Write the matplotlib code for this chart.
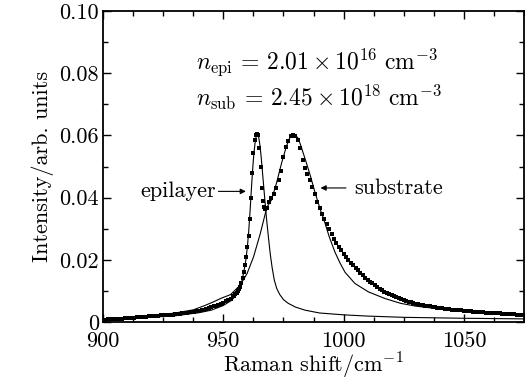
import numpy as np
import matplotlib
matplotlib.use("Agg")
import matplotlib.pyplot as plt
from matplotlib.ticker import MultipleLocator, FuncFormatter

plt.rcParams['font.family'] = 'serif'
plt.rcParams['font.serif'] = ['cmr10', 'DejaVu Serif']
plt.rcParams['mathtext.fontset'] = 'cm'
plt.rcParams['axes.unicode_minus'] = False

# ---- measured spectrum (squares) ----
seg1_int = [.0008, .0008, .0009, .0009, .0010, .0010, .0010, .0011, .0011, .0012,
            .0012, .0013, .0013, .0014, .0015, .0015, .0016, .0016, .0017, .0018,
            .0018, .0019, .0019, .0020, .0021, .0021, .0022, .0023, .0024, .0024,
            .0025, .0026, .0027, .0028, .0029, .0029, .0031, .0032, .0033, .0035,
            .0036, .0038, .0040, .0042, .0044, .0047, .0050, .0053, .0055, .0058,
            .0062, .0067, .0071, .0075, .0082]                       # 900..954
seg2_int = [.0085, .0089, .0093, .0099, .0105, .0112, .0125, .0142, .0162, .0184,
            .0210, .0240, .0278, .0330, .0400, .0480, .0545, .0585, .0600, .0605,
            .0600, .0560, .0500, .0430, .0390, .0370, .0362, .0365]   # 954.5..968
seg3_int = [.0385, .0398, .0413, .0432, .0455, .0485, .0530, .0563, .0582, .0597,
            .0602, .0597, .0585, .0560, .0520, .0495, .0475, .0455, .0435, .0410,
            .0385, .0365, .0348, .0332, .0315, .0298, .0282, .0268, .0255, .0242,
            .0230, .0218, .0208, .0198, .0190, .0182, .0175, .0166, .0158, .0150,
            .0143, .0136, .0130, .0124, .0118, .0112, .0107, .0102, .0098, .0094,
            .0090, .0086, .0082, .0079, .0076, .0073, .0070, .0067, .0065, .0063,
            .0061, .0059, .0057, .0055, .0054, .0052, .0051, .0050, .0048, .0047,
            .0046, .0045, .0044, .0043, .0042, .0041, .0040, .0039, .0038, .0037,
            .0037, .0036, .0035, .0034, .0034, .0033, .0033, .0032, .0031, .0031,
            .0030, .0030, .0029, .0029, .0028, .0028, .0028, .0027, .0027, .0026,
            .0026, .0025, .0025, .0024, .0024, .0023, .0023]           # 969..1075
seg1_x = np.arange(900, 954.5, 1.0)
seg2_x = np.arange(954.5, 968.25, 0.5)
seg3_x = np.arange(969, 1075.5, 1.0)
assert len(seg1_x) == len(seg1_int) and len(seg2_x) == len(seg2_int) and len(seg3_x) == len(seg3_int)
data_shift = np.concatenate([seg1_x, seg2_x, seg3_x])
data_int = np.array(seg1_int + seg2_int + seg3_int)

# ---- epilayer fit curve ----
epi_shift = [900, 915, 930, 940, 945, 950, 953.5, 955.5, 956.8, 957.7, 958.5, 959.3,
             960.0, 960.6, 961.2, 961.7, 962.2, 962.7, 963.2, 963.7, 964.2, 964.7,
             965.2, 965.7, 966.2, 966.7, 967.2, 967.7, 968.2, 968.8, 969.5, 970.3,
             971.2, 972.2, 973.5, 975, 977, 980, 984, 990, 1000, 1010, 1025, 1050, 1075]
epi_int = [.0009, .0013, .0020, .0030, .0038, .0053, .0070, .0088, .0108, .0130, .0160, .0195,
           .0240, .0295, .0365, .0430, .0490, .0540, .0575, .0597, .0605, .0595,
           .0570, .0535, .0490, .0445, .0400, .0355, .0315, .0270, .0220, .0175,
           .0135, .0108, .0088, .0072, .0060, .0048, .0038, .0029, .0023, .0019, .0015, .0012, .0010]

# ---- substrate fit curve ----
sub_shift = [900, 910, 920, 930, 937.5, 942, 946, 949, 953, 954.2, 957.1, 959.9, 962.6,
             965.4, 967.5, 968.2, 970, 972.1, 974.2, 976.2, 977.5, 978.6, 979.5, 980.4,
             981.3, 982.1, 984.2, 986.2, 988.3, 990.4, 992.2, 994, 996.4, 998.5, 1000.6,
             1004.7, 1010.3, 1017, 1023.75, 1030, 1037.6, 1051.5, 1065, 1075]
sub_int = [.0010, .0014, .0020, .0029, .0039, .0052, .0065, .0076, .0088, .0097, .0119, .0156, .0210,
           .0285, .0350, .0370, .0392, .0446, .0510, .0564, .0590, .0601, .0603, .0598,
           .0588, .0570, .0520, .0470, .0412, .0360, .0320, .0275, .0225, .0190, .0160,
           .0124, .0097, .0076, .0060, .0051, .0044, .0033, .0026, .0023]

FS = 16

fig = plt.figure(figsize=(5.25, 3.83), dpi=100)
ax = fig.add_axes([103/525, (383-322)/383, 421/525, 311/383])

ax.plot(epi_shift, epi_int, color='black', lw=0.8)
ax.plot(sub_shift, sub_int, color='black', lw=0.8)
ax.plot(data_shift, data_int, ls='none', marker='s', ms=3.3, color='black', mew=0)

ax.set_xlim(900, 1075)
ax.set_ylim(0, 0.10)
ax.xaxis.set_major_locator(MultipleLocator(50))
ax.xaxis.set_minor_locator(MultipleLocator(12.5))
ax.yaxis.set_major_locator(MultipleLocator(0.02))
ax.yaxis.set_minor_locator(MultipleLocator(0.01))
ax.yaxis.set_major_formatter(FuncFormatter(lambda v, p: '0' if abs(v) < 1e-9 else f'{v:.2f}'))
ax.tick_params(which='both', direction='in', top=True, right=True, labelsize=FS, width=1.0)
ax.tick_params(axis='x', which='major', length=5.5, pad=7)
ax.tick_params(axis='y', which='major', length=5.5, pad=3)
ax.tick_params(which='minor', length=3.5)
for s in ax.spines.values():
    s.set_linewidth(1.3)

ax.set_xlabel(r'Raman shift/cm$^{-1}$', fontsize=FS, labelpad=0)
ax.set_ylabel(r'Intensity/arb. units', fontsize=FS, labelpad=4)

ax.text(938.8, 0.0836, r'$n_{\rm epi}\,=\,2.01\times10^{16}\ {\rm cm}^{-3}$', fontsize=17, va='center')
ax.text(938.8, 0.0723, r'$n_{\rm sub}\,=\,2.45\times10^{18}\ {\rm cm}^{-3}$', fontsize=17, va='center')

arrow = dict(arrowstyle='-|>', color='black', lw=0.8, mutation_scale=8, shrinkA=0, shrinkB=0)
ax.text(947.0, 0.0420, 'epilayer', fontsize=FS, ha='right', va='center')
ax.annotate('', xy=(959.4, 0.0420), xytext=(948.0, 0.0420), arrowprops=arrow)
ax.text(1004.5, 0.0431, 'substrate', fontsize=FS, ha='left', va='center')
ax.annotate('', xy=(990.4, 0.0431), xytext=(1001.0, 0.0431), arrowprops=arrow)

fig.savefig('out.png', dpi=100)
